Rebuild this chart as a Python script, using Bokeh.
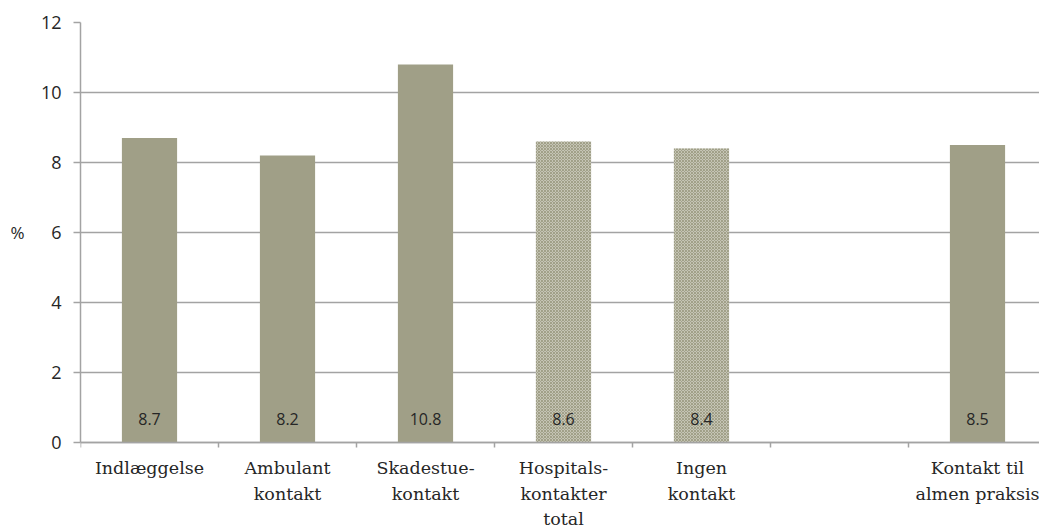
from bokeh.plotting import figure
from bokeh.models import Range1d, FixedTicker, ColumnDataSource, LinearAxis
from bokeh.embed import file_html
from bokeh.resources import INLINE
from bokeh.core.properties import value

# ---- data ----
categories = ["Indlæggelse", "Ambulant\nkontakt", "Skadestue-\nkontakt",
              "Hospitals-\nkontakter\ntotal", "Ingen\nkontakt", "",
              "Kontakt til\nalmen praksis"]
values = [8.7, 8.2, 10.8, 8.6, 8.4, None, 8.5]
hatched = [False, False, False, True, True, False, False]
y_ticks = [0, 2, 4, 6, 8, 10, 12]
y_label = "%"

BAR = "#a09f87"
GRID = "#a3a3a3"
PX_PER_UNIT = 35
FRAME_H = 527 - 22

solid = dict(x=[], top=[], lab=[])
hat = dict(x=[], top=[], lab=[])
for i, (c, v, h) in enumerate(zip(categories, values, hatched)):
    if v is None:
        continue
    d = hat if h else solid
    d["x"].append(i + 0.5)
    d["top"].append(v)
    d["lab"].append(f"{v:.1f}")

all_x = solid["x"] + hat["x"]
all_lab = solid["lab"] + hat["lab"]

y_max = y_ticks[-1]
p = figure(width=1039, height=527, output_backend="svg", toolbar_location=None,
           x_range=Range1d(0, (1039 - 80) / 138),
           y_range=Range1d(y_max - FRAME_H / PX_PER_UNIT, y_max),
           min_border_left=80, min_border_right=0, min_border_top=22,
           min_border_bottom=0)
p.outline_line_color = None
p.background_fill_color = "white"
p.border_fill_color = "white"

p.vbar(x="x", top="top", width=0.4, bottom=0, source=ColumnDataSource(solid),
       fill_color=BAR, line_color=None)
p.vbar(x="x", top="top", width=0.4, bottom=0, source=ColumnDataSource(hat),
       fill_color="#d6d5ca", line_color=None, hatch_pattern="diagonal_cross",
       hatch_color=BAR, hatch_scale=3, hatch_weight=1.2)

p.text(x=all_x, y=[0] * len(all_x), text=all_lab, text_align="center",
       text_baseline="middle", y_offset=-24, text_font=value("Open Sans"),
       text_font_size="16px", text_color="#262626")

# category labels, each line centred under its bar slot
LINE_OFFSETS = [25, 51, 76]
lx, ly, lt, lo = [], [], [], []
for i, cat in enumerate(categories):
    for j, line in enumerate(cat.split("\n")):
        if not line:
            continue
        lx.append(i + 0.5)
        ly.append(0)
        lt.append(line)
        lo.append(LINE_OFFSETS[j])
p.text(x="x", y="y", text="t", y_offset="o",
       source=ColumnDataSource(dict(x=lx, y=ly, t=lt, o=lo)),
       text_align="center", text_baseline="alphabetic",
       text_font=value("DejaVu Serif"), text_font_size="17.5px",
       text_color="#262626")

# grid
p.xgrid.grid_line_color = None
p.ygrid.ticker = FixedTicker(ticks=y_ticks)
p.ygrid.grid_line_color = GRID
p.ygrid.grid_line_width = 1.5

# y axis
ya = p.yaxis[0]
ya.ticker = FixedTicker(ticks=y_ticks)
ya.bounds = (y_ticks[0], y_ticks[-1])
ya.axis_line_color = GRID
ya.axis_line_width = 1.5
ya.major_tick_line_color = GRID
ya.major_tick_line_width = 1.5
ya.major_tick_out = 7
ya.major_tick_in = 0
ya.minor_tick_line_color = None
ya.major_label_standoff = 12
ya.major_label_text_font = "Open Sans"
ya.major_label_text_font_size = "18px"
ya.major_label_text_color = "#262626"

# "%" label as an outer axis at mid height
mid = (y_ticks[0] + y_ticks[-1]) / 2
ya2 = LinearAxis(ticker=FixedTicker(ticks=[mid]), major_label_overrides={mid: y_label})
ya2.axis_line_color = None
ya2.major_tick_line_color = None
ya2.minor_tick_line_color = None
ya2.major_tick_out = 0
ya2.major_tick_in = 0
ya2.major_label_standoff = 13
ya2.major_label_text_font = "Open Sans"
ya2.major_label_text_font_size = "17px"
ya2.major_label_text_color = "#262626"
p.add_layout(ya2, "left")

# x axis fixed at y=0: boundary ticks only
xa = p.xaxis[0]
xa.fixed_location = 0
xa.ticker = FixedTicker(ticks=[], minor_ticks=list(range(len(categories) + 1)))
xa.axis_line_color = GRID
xa.axis_line_width = 1.5
xa.major_tick_line_color = None
xa.minor_tick_line_color = GRID
xa.minor_tick_line_width = 1.5
xa.minor_tick_out = 5
xa.minor_tick_in = 0
xa.major_label_text_font_size = "0px"

open("out.html", "w").write(file_html(p, INLINE))
